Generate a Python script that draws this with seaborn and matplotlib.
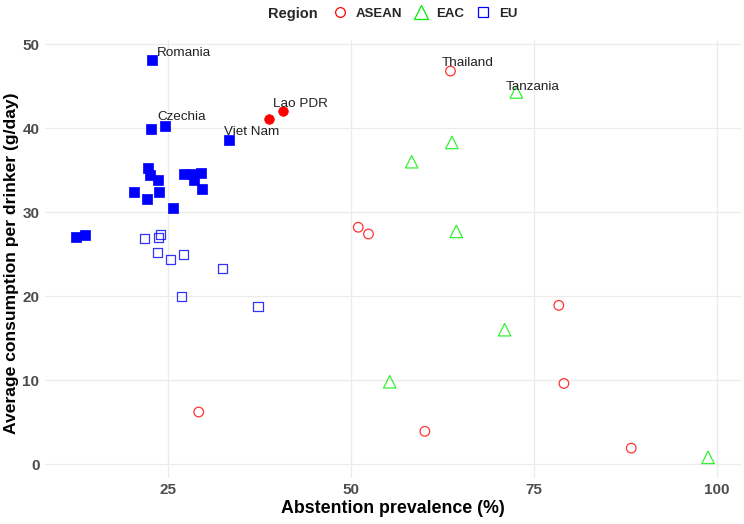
import numpy as np
import pandas as pd
import matplotlib
matplotlib.use('Agg')
import matplotlib.pyplot as plt
from matplotlib.lines import Line2D
from matplotlib.offsetbox import HPacker
import seaborn as sns

# ── data ──────────────────────────────────────────────────────────────────────
asean_x        = [63.6, 51.0, 52.4, 78.4, 79.1, 60.1, 88.3, 29.2]
asean_y        = [46.8, 28.2, 27.4, 18.9, 9.6, 3.9, 1.9, 6.2]
asean_hl_x     = [40.7, 38.8]
asean_hl_y     = [42.0, 41.1]

eac_x          = [72.6, 63.8, 58.3, 64.4, 71.0, 55.3, 98.8]
eac_y          = [44.3, 38.3, 36.0, 27.7, 16.0, 9.8, 0.8]

eu_hl_x        = [22.8, 22.7, 24.6, 33.3, 22.3, 22.6, 23.7, 27.2, 28.3, 29.5,
                  28.5, 29.6, 20.3, 22.1, 23.8, 25.7, 12.5, 13.6]
eu_hl_y        = [48.1, 39.9, 40.3, 38.6, 35.3, 34.4, 33.8, 34.6, 34.6, 34.7,
                  33.8, 32.7, 32.4, 31.6, 32.4, 30.5, 27.0, 27.3]
eu_x           = [21.8, 23.7, 24.0, 23.6, 25.3, 27.1, 32.4, 26.8, 37.3]
eu_y           = [26.9, 27.0, 27.3, 25.2, 24.4, 25.0, 23.3, 20.0, 18.8]

label_names    = ['Romania', 'Czechia', 'Lao PDR', 'Viet Nam', 'Thailand', 'Tanzania']
label_x        = [23.5, 23.5, 39.3, 32.6, 62.4, 71.2]
label_y        = [48.6, 41.0, 42.5, 39.2, 47.4, 44.6]

regions        = ['ASEAN', 'EAC', 'EU']
x_ticks        = [25, 50, 75, 100]
y_ticks        = [0, 10, 20, 30, 40, 50]

# ── build long table ──────────────────────────────────────────────────────────
parts = [
    ('ASEAN', False, asean_x, asean_y),
    ('ASEAN', True,  asean_hl_x, asean_hl_y),
    ('EAC',   False, eac_x, eac_y),
    ('EU',    False, eu_x, eu_y),
    ('EU',    True,  eu_hl_x, eu_hl_y),
]
df = pd.concat([pd.DataFrame({'abstention': xs, 'consumption': ys,
                              'region': r, 'filled': f})
                for r, f, xs, ys in parts], ignore_index=True)

colors  = {'ASEAN': '#FF0000', 'EAC': '#00EE00', 'EU': '#0000FF'}
markers = {'ASEAN': 'o', 'EAC': '^', 'EU': 's'}
sizes   = {'ASEAN': 48, 'EAC': 80, 'EU': 44}

# ── plot ──────────────────────────────────────────────────────────────────────
sns.set_theme(style='whitegrid')
plt.rcParams['font.family'] = ['Liberation Sans', 'DejaVu Sans']

fig = plt.figure(figsize=(7.44, 5.24), dpi=100)
ax = fig.add_axes([0.0605, 0.0887, 0.9355, 0.835])

for (reg, filled), sub in df.groupby(['region', 'filled']):
    if filled:
        sns.scatterplot(data=sub, x='abstention', y='consumption', ax=ax,
                        marker=markers[reg], s=sizes[reg], color=colors[reg],
                        edgecolor=colors[reg], linewidth=0.5, zorder=3)
    else:
        sns.scatterplot(data=sub, x='abstention', y='consumption', ax=ax,
                        marker=markers[reg], s=sizes[reg], facecolor='none',
                        edgecolor=colors[reg], linewidth=0.9, alpha=0.8, zorder=3)

for name, lx, ly in zip(label_names, label_x, label_y):
    ax.text(lx, ly, name, fontsize=9.7, color='#222222',
            ha='left', va='baseline', zorder=4)

ax.set_xlim(8.2, 103.3)
ax.set_ylim(-1.6, 50.5)
ax.set_xticks(x_ticks)
ax.set_yticks(y_ticks)
ax.grid(True, color='#EBEBEB', linewidth=0.9)
for s in ax.spines.values():
    s.set_visible(False)
ax.tick_params(length=0, pad=4, labelsize=11, labelcolor='#4D4D4D')
for lab in ax.get_xticklabels() + ax.get_yticklabels():
    lab.set_fontweight('bold')

ax.set_xlabel('Abstention prevalence (%)', fontsize=12.8, fontweight='bold',
              color='black', labelpad=2)
ax.set_ylabel('Average consumption per drinker (g/day)', fontsize=12.6,
              fontweight='bold', color='black')
ax.yaxis.set_label_coords(-0.048, 0.49)
ax.yaxis.label.set_va('center')

handles = [Line2D([], [], linestyle='none', marker=markers[r],
                  markersize={'ASEAN': 7, 'EAC': 10, 'EU': 7}[r],
                  markerfacecolor='none', markeredgecolor=colors[r],
                  markeredgewidth=0.9, label=r) for r in regions]
leg = fig.legend(handles=handles, title='Region', loc='upper center',
                 bbox_to_anchor=(0.528, 1.01), ncol=3, frameon=False,
                 prop={'weight': 'bold', 'size': 9.5},
                 title_fontproperties={'weight': 'bold', 'size': 10.5},
                 handletextpad=0.6, columnspacing=0.8, handlelength=1.2)
# put title inline with the entries
box = leg._legend_box
box._children = [HPacker(children=box._children, pad=0, sep=10, align='center')]

fig.savefig('out.png', dpi=100)
